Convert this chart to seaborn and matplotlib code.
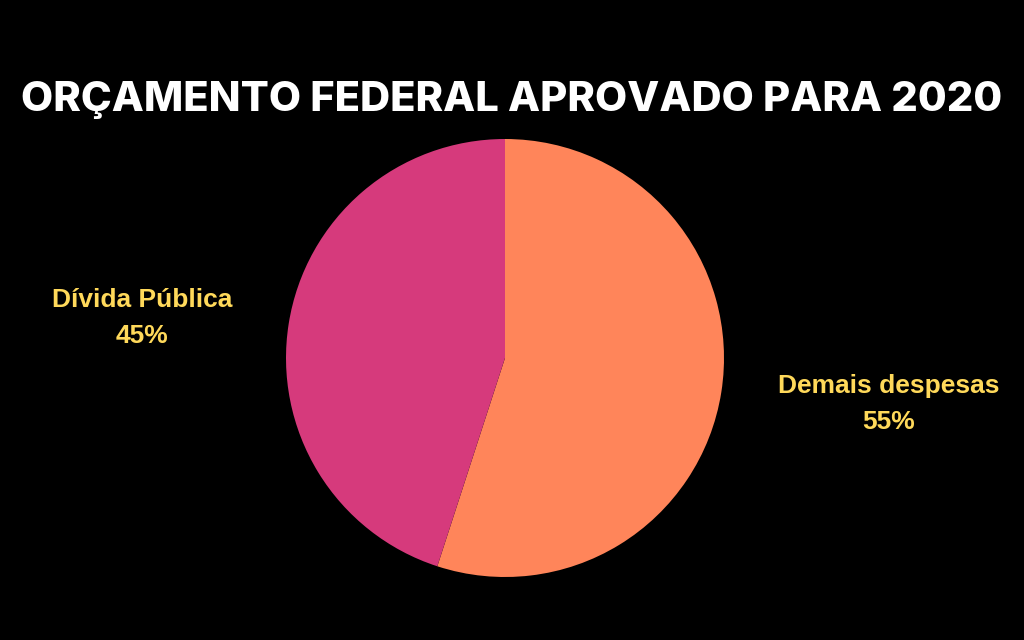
import matplotlib
matplotlib.use("Agg")
import matplotlib.pyplot as plt
import seaborn as sns

categories = ["Demais despesas", "Dívida Pública"]
values = [55, 45]
title = "ORÇAMENTO FEDERAL APROVADO PARA 2020"

sns.set_theme(style="dark", rc={"figure.facecolor": "black", "axes.facecolor": "black"})
plt.rcParams['font.family'] = ['Liberation Sans', 'DejaVu Sans']
colors = sns.color_palette(["#FF855A", "#D63A7C"])

fig = plt.figure(figsize=(10.24, 6.4), dpi=100)
fig.patch.set_facecolor("black")
ax = fig.add_axes([286/1024, 63/640, 438/1024, 438/640])
ax.set_facecolor("black")
ax.pie(values, colors=colors, startangle=90, counterclock=False, radius=1,
       wedgeprops=dict(linewidth=0))
ax.set_xlim(-1, 1)
ax.set_ylim(-1, 1)
ax.axis("off")

fig.text(0.5, 1 - 100/640, title, ha="center", va="center", color="white",
         fontsize=30, fontweight="heavy", family=["Inter", "DejaVu Sans"])

label_pos = {"Dívida Pública": (142, 318), "Demais despesas": (889, 404)}
for cat, val in zip(categories, values):
    x, y = label_pos[cat]
    fig.text(x/1024, 1 - y/640, f"{cat}\n{val}%", ha="center", va="center",
             color="#FFD95A", fontsize=19, fontweight="bold", linespacing=1.62)

fig.savefig("out.png", dpi=100, facecolor="black")
